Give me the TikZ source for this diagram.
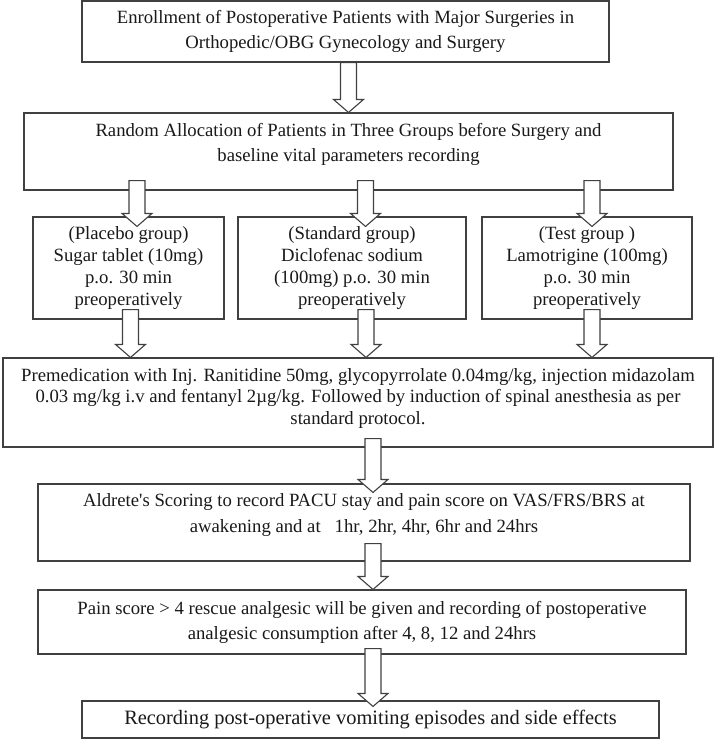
\documentclass[tikz,border=0pt]{standalone}
\usepackage{fontspec}
\setmainfont{Liberation Serif}
\usetikzlibrary{calc}

\begin{document}
\begin{tikzpicture}[x=1pt,y=-1pt,draw=black!75,line width=1.1pt]
    \tikzstyle{stage}=[rectangle,draw,inner sep=0pt,align=center,text=black!90,font=\fontsize{18.7}{25}\selectfont]
    \tikzstyle{group}=[stage,minimum height=102pt,font=\fontsize{18.7}{21.7}\selectfont]
    \tikzstyle{fatarrow}=[draw,fill=white,to path={let \p1=(\tikztostart), \p2=(\tikztotarget) in
        (\x2-8pt,\y1) -- (\x2+8pt,\y1) -- (\x2+8pt,\y2+13pt) -- (\x2+15pt,\y2+13pt) --
        (\x2,\y2) -- (\x2-15pt,\y2+13pt) -- (\x2-8pt,\y2+13pt) -- cycle}]

    \useasboundingbox (0,0) rectangle (714,739);

    % Draw the stages from top to bottom
    \node[stage,minimum width=527pt,minimum height=61pt] (enroll) at (345.5,31.5)
        {Enrollment of Postoperative Patients with Major Surgeries in\\Orthopedic/OBG Gynecology and Surgery};
    \node[stage,minimum width=649pt,minimum height=77pt] (alloc) at (348.5,151.5)
        {Random Allocation of Patients in Three Groups before Surgery and\\baseline vital parameters recording\\[-6pt]\mbox{}};

    % the three groups
    \node[group,minimum width=191pt] (placebo) at (128.5,268)
        {(Placebo group)\\Sugar tablet (10mg)\\p.o. 30 min\\preoperatively};
    \node[group,minimum width=228pt] (standard) at (352,268)
        {(Standard group)\\Diclofenac sodium\\(100mg) p.o. 30 min\\preoperatively};
    \node[group,minimum width=210pt] (test) at (587,268)
        {(Test group )\\Lamotrigine (100mg)\\p.o. 30 min\\preoperatively};

    \node[stage,minimum width=710pt,minimum height=89pt,font=\fontsize{18.7}{21.5}\selectfont] (premed) at (358,402.5)
        {Premedication with Inj. Ranitidine 50mg, glycopyrrolate 0.04mg/kg, injection midazolam\\
         0.03 mg/kg i.v and fentanyl 2µg/kg. Followed by induction of spinal anesthesia as per\\
         standard protocol.\\[-9.5pt]\mbox{}};
    \node[stage,minimum width=652pt,minimum height=77pt,font=\fontsize{18.7}{26}\selectfont] (aldrete) at (364,522.5)
        {Aldrete\textquotesingle s Scoring to record PACU stay and pain score on VAS/FRS/BRS at\\
         awakening and at\ \ \ 1hr, 2hr, 4hr, 6hr and 24hrs\\[-7pt]\mbox{}};
    \node[stage,minimum width=648pt,minimum height=64pt] (rescue) at (362,622)
        {Pain score > 4 rescue analgesic will be given and recording of postoperative\\
         analgesic consumption after 4, 8, 12 and 24hrs};
    \node[stage,minimum width=577pt,minimum height=37pt,font=\fontsize{20.4}{25}\selectfont] (vomit) at (370.5,719.5)
        {Recording post-operative vomiting episodes and side effects};

    % Draw the block arrows between the stages
    \path (enroll.south) edge[fatarrow] (alloc.north);
    \path ([yshift=10pt]alloc.south) edge[fatarrow] ([xshift=8.5pt,yshift=-10pt]placebo.north);
    \path ([yshift=10pt]alloc.south) edge[fatarrow] ([xshift=13.5pt,yshift=-10pt]standard.north);
    \path ([yshift=10pt]alloc.south) edge[fatarrow] ([xshift=5pt,yshift=-10pt]test.north);
    \path ([yshift=10pt]placebo.south) edge[fatarrow] ([xshift=-227.5pt]premed.north);
    \path ([yshift=10pt]standard.south) edge[fatarrow] ([xshift=8pt]premed.north);
    \path ([yshift=10pt]test.south) edge[fatarrow] ([xshift=234pt]premed.north);
    \path ([yshift=9pt]premed.south) edge[fatarrow] ([xshift=9pt,yshift=-9pt]aldrete.north);
    \path ([yshift=18pt]aldrete.south) edge[fatarrow] ([xshift=11pt]rescue.north);
    \path ([yshift=6pt]rescue.south) edge[fatarrow] ([xshift=2.5pt,yshift=-6pt]vomit.north);
\end{tikzpicture}
\end{document}
